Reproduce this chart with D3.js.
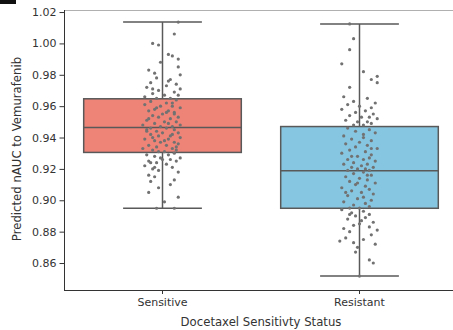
<!DOCTYPE html>
<html>
<head>
<meta charset="utf-8">
<script src="https://cdn.jsdelivr.net/npm/d3@7"></script>
<style>
  html, body { margin: 0; padding: 0; background: #fff; }
  svg { display: block; font-family: "DejaVu Sans", sans-serif; }
</style>
</head>
<body>
<svg id="chart" width="453" height="330"></svg>
<script>
// Groups on the x axis
const categories = ["Sensitive", "Resistant"];
const boxColors = ["#ee8377", "#86c6e1"];

// Box summary per group: [whisker low, Q1, median, Q3, whisker high]
const boxSensitive = [0.8949, 0.9305, 0.9464, 0.9647, 1.0136];
const boxResistant = [0.8517, 0.8949, 0.9188, 0.9470, 1.0124];

// Individual predictions per group: [jitter offset (band units), value]
const ptsSensitive = [
  [0.08, 1.0136], [0.06, 1.006], [-0.05, 1.000], [-0.02, 0.999], [0.03, 0.993], [0.05, 0.992],
  [0.08, 0.990], [-0.01, 0.988], [0.08, 0.985], [-0.07, 0.983], [-0.04, 0.981], [0.09, 0.980],
  [-0.03, 0.978], [0.04, 0.977], [-0.06, 0.975], [0.07, 0.974], [0.02, 0.973], [-0.08, 0.972],
  [0.09, 0.971], [-0.02, 0.970], [0.06, 0.969], [-0.05, 0.968], [0.01, 0.967], [0.08, 0.967],
  [-0.09, 0.966], [0.04, 0.965], [-0.03, 0.965], [0.03, 0.976], [-0.05, 0.971], [0.05, 0.962],
  [0.07, 0.964], [-0.06, 0.963], [0.02, 0.962], [-0.09, 0.961], [0.05, 0.960], [-0.01, 0.960],
  [0.09, 0.959], [-0.04, 0.958], [0.03, 0.957], [-0.07, 0.957], [0.06, 0.956], [0.00, 0.955],
  [-0.05, 0.954], [0.08, 0.953], [-0.02, 0.953], [0.04, 0.952], [-0.08, 0.951], [0.01, 0.950],
  [0.07, 0.950], [-0.04, 0.949], [0.03, 0.949], [-0.10, 0.948], [0.09, 0.948], [-0.01, 0.947],
  [0.05, 0.947], [-0.06, 0.946], [-0.03, 0.959], [0.06, 0.955], [-0.07, 0.952], [0.02, 0.956],
  [0.02, 0.946], [-0.08, 0.945], [0.06, 0.945], [-0.03, 0.944], [0.08, 0.943], [0.00, 0.943],
  [-0.06, 0.942], [0.04, 0.941], [-0.02, 0.941], [0.09, 0.940], [-0.09, 0.939], [0.03, 0.939],
  [-0.04, 0.938], [0.06, 0.937], [-0.01, 0.937], [0.08, 0.936], [-0.07, 0.935], [0.02, 0.935],
  [-0.03, 0.934], [0.05, 0.933], [-0.10, 0.933], [0.07, 0.932], [-0.05, 0.932], [0.01, 0.931],
  [-0.02, 0.931], [0.05, 0.942], [-0.05, 0.940], [0.01, 0.938], [-0.08, 0.944], [0.07, 0.934],
  [0.06, 0.930], [-0.08, 0.929], [0.03, 0.929], [-0.04, 0.928], [0.09, 0.927], [-0.01, 0.927],
  [0.04, 0.926], [-0.07, 0.925], [0.07, 0.925], [-0.03, 0.924], [0.02, 0.923], [-0.09, 0.922],
  [0.05, 0.921], [-0.05, 0.920], [-0.02, 0.919], [0.08, 0.918], [-0.07, 0.916], [-0.04, 0.915],
  [0.06, 0.913], [-0.06, 0.912], [0.04, 0.910], [-0.02, 0.908], [-0.07, 0.905], [0.08, 0.902],
  [0.01, 0.899], [-0.03, 0.8949], [0.06, 0.8949], [-0.06, 0.924], [0.00, 0.926], [-0.04, 0.921]
];
const ptsResistant = [
  [-0.05, 1.0124], [-0.03, 1.003], [-0.05, 0.996], [-0.09, 0.987], [0.02, 0.982], [0.09, 0.979],
  [0.06, 0.977], [0.09, 0.975], [-0.05, 0.972], [-0.08, 0.966], [0.04, 0.965], [-0.03, 0.963],
  [0.08, 0.962], [-0.06, 0.961], [0.00, 0.960], [0.06, 0.959], [-0.09, 0.958], [0.03, 0.957],
  [-0.02, 0.956], [0.07, 0.955], [-0.05, 0.954], [0.01, 0.953], [0.09, 0.952], [-0.07, 0.951],
  [0.04, 0.950], [-0.01, 0.950], [0.06, 0.949], [-0.03, 0.948], [0.02, 0.948], [0.05, 0.953],
  [-0.06, 0.946], [0.05, 0.945], [-0.02, 0.944], [0.08, 0.943], [-0.08, 0.941], [0.02, 0.940],
  [-0.04, 0.939], [0.06, 0.938], [0.00, 0.937], [-0.07, 0.936], [0.04, 0.935], [-0.02, 0.934],
  [0.09, 0.933], [-0.05, 0.932], [0.03, 0.931], [-0.09, 0.930], [0.06, 0.929], [-0.01, 0.928],
  [0.05, 0.927], [-0.06, 0.926], [0.02, 0.926], [0.08, 0.925], [-0.03, 0.924], [0.04, 0.923],
  [-0.08, 0.923], [0.01, 0.922], [0.07, 0.921], [-0.04, 0.921], [0.03, 0.920], [-0.01, 0.920],
  [0.05, 0.919], [-0.06, 0.919], [0.02, 0.942], [-0.04, 0.928], [0.06, 0.933],
  [0.02, 0.918], [-0.03, 0.917], [0.06, 0.916], [-0.07, 0.915], [0.00, 0.914], [0.04, 0.913],
  [-0.05, 0.912], [0.08, 0.911], [-0.02, 0.910], [0.03, 0.909], [-0.09, 0.908], [0.05, 0.907],
  [-0.04, 0.906], [0.01, 0.905], [0.07, 0.904], [-0.06, 0.903], [0.02, 0.902], [-0.01, 0.901],
  [0.06, 0.900], [-0.08, 0.899], [0.03, 0.898], [-0.03, 0.897], [0.05, 0.896], [-0.05, 0.895],
  [0.00, 0.895], [0.04, 0.916], [-0.07, 0.905], [-0.01, 0.911],
  [-0.09, 0.894], [0.02, 0.893], [-0.04, 0.892], [0.05, 0.891], [-0.02, 0.890], [0.03, 0.889],
  [-0.06, 0.888], [0.07, 0.886], [0.00, 0.885], [-0.03, 0.884], [0.05, 0.883], [-0.08, 0.882],
  [0.09, 0.881], [-0.05, 0.880], [0.06, 0.878], [-0.07, 0.876], [0.02, 0.875], [-0.10, 0.874],
  [-0.03, 0.873], [0.08, 0.872], [-0.01, 0.870], [-0.02, 0.867], [0.05, 0.862], [0.07, 0.860],
  [0.00, 0.8517], [0.01, 0.887], [-0.05, 0.891]
];

const yTicks = [0.86, 0.88, 0.90, 0.92, 0.94, 0.96, 0.98, 1.00, 1.02];
const yLabel = "Predicted nAUC to Vemurafenib";
const xLabel = "Docetaxel Sensitivty Status";

const boxes = [boxSensitive, boxResistant];
const points = [ptsSensitive, ptsResistant];

const svg = d3.select("#chart");
const m = { left: 64, top: 10, right: 458, bottom: 290 };

const y = d3.scaleLinear().domain([0.8428, 1.0213]).range([m.bottom, m.top]);
const x = d3.scaleBand().domain(categories).range([m.left, m.right]).paddingInner(0).paddingOuter(0);
const bw = x.bandwidth();
const boxW = bw * 0.8;
const lineColor = "#595959";

// Panel marker fragment in the top-left corner
svg.append("rect").attr("x", 0).attr("y", 0).attr("width", 16).attr("height", 4).attr("fill", "#111");

// Top spine
svg.append("line").attr("x1", m.left).attr("x2", m.right).attr("y1", m.top + 0.5).attr("y2", m.top + 0.5)
  .attr("stroke", "#b0b0b0").attr("stroke-width", 1.2);

// Boxes and whiskers
categories.forEach((c, i) => {
  const [lo, q1, med, q3, hi] = boxes[i];
  const cx = x(c) + bw / 2;
  const g = svg.append("g");
  g.append("line").attr("x1", cx).attr("x2", cx).attr("y1", y(hi)).attr("y2", y(q3))
    .attr("stroke", lineColor).attr("stroke-width", 1.5);
  g.append("line").attr("x1", cx).attr("x2", cx).attr("y1", y(q1)).attr("y2", y(lo))
    .attr("stroke", lineColor).attr("stroke-width", 1.5);
  [lo, hi].forEach(v => {
    g.append("line").attr("x1", cx - boxW / 4).attr("x2", cx + boxW / 4).attr("y1", y(v)).attr("y2", y(v))
      .attr("stroke", lineColor).attr("stroke-width", 1.5);
  });
  g.append("rect").attr("x", cx - boxW / 2).attr("width", boxW)
    .attr("y", y(q3)).attr("height", y(q1) - y(q3))
    .attr("fill", boxColors[i]).attr("stroke", lineColor).attr("stroke-width", 1.5);
  g.append("line").attr("x1", cx - boxW / 2).attr("x2", cx + boxW / 2).attr("y1", y(med)).attr("y2", y(med))
    .attr("stroke", lineColor).attr("stroke-width", 1.5);
});

// Jittered points
categories.forEach((c, i) => {
  const cx = x(c) + bw / 2;
  svg.append("g").selectAll("circle").data(points[i]).join("circle")
    .attr("cx", d => cx + d[0] * bw)
    .attr("cy", d => y(d[1]))
    .attr("r", 1.6)
    .attr("fill", "#727272");
});

// Axes
const yAxis = d3.axisLeft(y).tickValues(yTicks).tickFormat(d3.format(".2f")).tickSize(4.5).tickPadding(3);
const gy = svg.append("g").attr("transform", `translate(${m.left},0)`).call(yAxis);
const xAxis = d3.axisBottom(x).tickSize(4).tickPadding(4);
const gx = svg.append("g").attr("transform", `translate(0,${m.bottom})`).call(xAxis);
[gy, gx].forEach(g => {
  g.select(".domain").attr("stroke", "#333").attr("stroke-width", 1);
  g.selectAll(".tick line").attr("stroke", "#333").attr("stroke-width", 1);
  g.selectAll(".tick text").attr("fill", "#333").attr("font-size", 11).attr("font-family", "DejaVu Sans, sans-serif");
});
gx.select(".domain").attr("d", `M${m.left},0.5H${m.right}`);
gy.select(".domain").attr("d", `M0.5,${m.bottom}V${m.top}`);

// Axis titles
svg.append("text").attr("x", (m.left + m.right) / 2).attr("y", 326)
  .attr("text-anchor", "middle").attr("font-size", 11.7).attr("fill", "#333").text(xLabel);
svg.append("text").attr("transform", `translate(21,${149}) rotate(-90)`)
  .attr("text-anchor", "middle").attr("font-size", 11.7).attr("fill", "#333").text(yLabel);
</script>
</body>
</html>
